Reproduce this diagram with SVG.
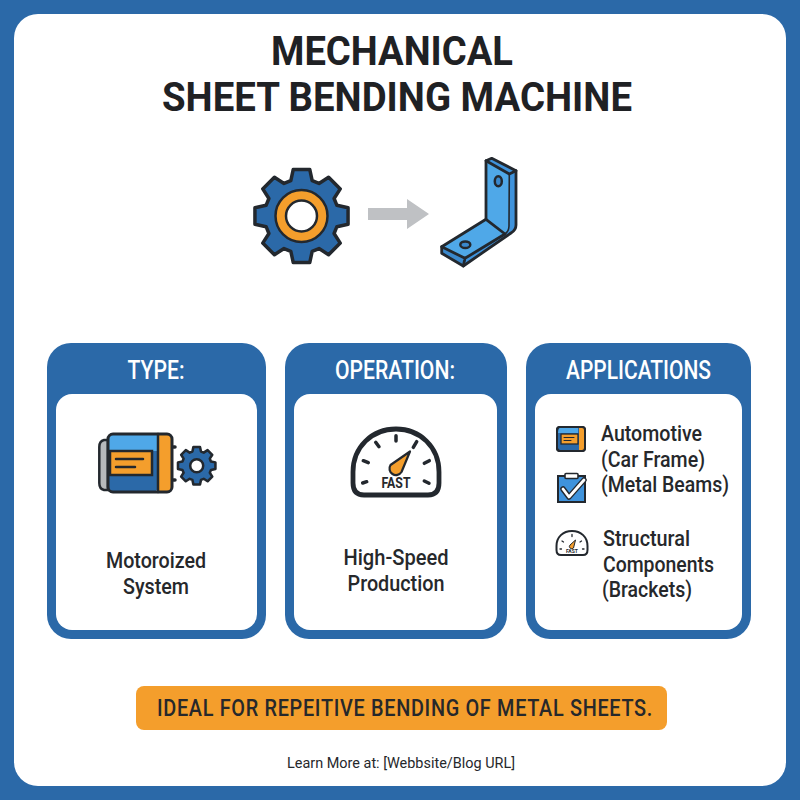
<svg xmlns="http://www.w3.org/2000/svg" width="800" height="800" viewBox="0 0 800 800">
<style>
text{font-family:Roboto,"Liberation Sans",sans-serif;fill:#26282b;font-weight:500;stroke:none}
.title{font-size:41px;font-weight:700;text-anchor:middle;fill:#1f2124}
.head{font-size:25px;fill:#fff;text-anchor:middle}
.body{font-size:22px;text-anchor:middle}
.app{font-size:22px}
.card{fill:#2b69a8}
.inner{fill:#fff}
.ol{stroke:#23282e;stroke-linejoin:round;stroke-linecap:round;fill:none}
</style>
<defs>
<path id="gearShape" d="M-11-36.5L-8.500-48H8.500L11-36.500L18.030-33.590L27.930-39.950L39.950-27.930L33.590-18.030L36.500-11L48-8.500V8.500L36.500 11L33.590 18.030L39.950 27.930L27.930 39.950L18.030 33.590L11 36.500L8.500 48H-8.500L-11 36.500L-18.030 33.590L-27.930 39.950L-39.950 27.930L-33.590 18.030L-36.500 11L-48 8.500V-8.500L-36.500-11L-33.590-18.030L-39.950-27.930L-27.930-39.950L-18.030-33.590Z" stroke-linejoin="round"/>
<g id="gaugeTicks" class="ol">
<path d="M363.300 460.700L368.300 462.700M375.700 442.300L379 446.700M396 435.700V441M416.700 441.700L413.300 447.300M429.300 460.700L424.300 463.300M366.700 481.700L362.700 483M424.300 481L429 483.300" stroke-width="3.500"/>
</g>
</defs>
<rect width="800" height="800" fill="#2b69a8"/>
<rect x="14" y="14" width="772" height="772" rx="24" fill="#fff"/>
<text class="title" x="392" y="65" textLength="242" lengthAdjust="spacingAndGlyphs">MECHANICAL</text>
<text class="title" x="397" y="111" textLength="470" lengthAdjust="spacingAndGlyphs">SHEET BENDING MACHINE</text>

<g id="gear">
<use href="#gearShape" transform="translate(301.500 216) scale(.97)" fill="#2b69a8" stroke="#23282e" stroke-width="3.600"/>
<circle cx="301.500" cy="216" r="21" fill="#fff" stroke="#f49e2c" stroke-width="10"/>
<circle cx="301.500" cy="216" r="26" fill="none" stroke="#23282e" stroke-width="2.500"/>
<circle cx="301.500" cy="216" r="15.500" fill="none" stroke="#23282e" stroke-width="2.500"/>
</g>
<g id="connectors">
<path id="arrow" d="M368 208H407V199L429 214L407 229V220H368Z" fill="#bfc1c4"/>
</g>
<g id="bracket">
<path d="M486 160.700L491.700 158.300L516 170.700V225Q516 230 511 233L463.300 266L441.700 253.300V246.700L486 219.300Z" fill="#4fa8e8"/>
<path d="M486 160.700L491.700 158.300L516 170.700L509.300 174Z" fill="#3f93dc"/>
<path d="M509.300 174L516 170.700V225Q516 230 511 233L463.300 266V258.300L505 234Q509 231 509 226Z" fill="#3f93dc"/>
<path d="M441.700 246.700L465 258.300V266L441.700 253.300Z" fill="#3a88cc"/>
<g class="ol" stroke-width="2.800">
<path d="M486 160.700L491.700 158.300L516 170.700V225Q516 230 511 233L463.300 266L441.700 253.300V246.700L486 219.300Z"/>
<path d="M486 160.700L509.300 174M509.300 174L516 170.700M441.700 246.700L465 258.300L505 234M465 258.300L463.300 266M486 219.300L505 234"/>
<path d="M509.300 174L509 226Q509 231 505 234" stroke-width="1.600"/>
</g>
<ellipse cx="498.300" cy="181.300" rx="3.500" ry="5" fill="#3a88cc" stroke="#23282e" stroke-width="2.500"/>
<ellipse cx="465.300" cy="244.700" rx="5" ry="3.300" fill="#3a88cc" stroke="#23282e" stroke-width="2.500"/>
</g>

<g id="card-type">
<rect class="card" x="47" y="343" width="219" height="296" rx="24"/>
<rect class="inner" x="56" y="394" width="201" height="236" rx="16"/>
<text class="head" x="156" y="379" textLength="57" lengthAdjust="spacingAndGlyphs">TYPE:</text>
<g id="motor">
<path d="M108 440H104Q99.300 441 99.300 447V483Q99.300 489 104 490H108Z" fill="#b6b9bc" stroke="#23282e" stroke-width="2.500"/>
<rect x="108" y="434" width="50" height="58" rx="5" fill="#2b69a8"/>
<path d="M113 434H158V451H108V439Q108 434 113 434Z" fill="#4fa8e8"/>
<rect x="110" y="451" width="42" height="24" fill="#f49e2c" stroke="#23282e" stroke-width="2.500"/>
<path d="M158 434H167Q172 434 172 439V487Q172 492 167 492H158Z" fill="#f49e2c"/>
<g class="ol">
<rect x="108" y="434" width="64" height="58" rx="5" stroke-width="3"/>
<path d="M158 434V492" stroke-width="2.500"/>
<path d="M116 459H143M116 467H135" stroke-width="2.500"/>
<path d="M173.500 447H175M173.500 480H175" stroke-width="3.500"/>
</g>
<use href="#gearShape" transform="translate(196.700 465.700) scale(.39)" fill="#2b69a8" stroke="#23282e" stroke-width="6.500"/>
<circle cx="196.700" cy="465.700" r="6.500" fill="#fff" stroke="#23282e" stroke-width="2.500"/>
</g>
<text class="body" x="156" y="568" textLength="100" lengthAdjust="spacingAndGlyphs">Motoroized</text>
<text class="body" x="156" y="594" textLength="66" lengthAdjust="spacingAndGlyphs">System</text>
</g>

<g id="card-operation">
<rect class="card" x="285" y="343" width="222" height="296" rx="24"/>
<rect class="inner" x="294" y="394" width="203" height="236" rx="16"/>
<text class="head" x="395" y="379" textLength="120" lengthAdjust="spacingAndGlyphs">OPERATION:</text>
<g id="gauge">
<path d="M364 495Q353 495 353 483V472C353 447 372 429 396 429C420 429 439 447 439 472V483Q439 495 428 495Z" fill="#fff" stroke="#23282e" stroke-width="4.800" stroke-linejoin="round"/>
<use href="#gaugeTicks"/>
<path d="M390.500 465L410 451.500L401.500 472A6.500 6.500 0 0 1 390.500 465Z" fill="#f49e2c" stroke="#23282e" stroke-width="2.200" stroke-linejoin="round"/>
<text x="396" y="488" font-size="15" text-anchor="middle" style="font-weight:700" textLength="29" lengthAdjust="spacingAndGlyphs">FAST</text>
</g>
<text class="body" x="396" y="565" textLength="105" lengthAdjust="spacingAndGlyphs">High-Speed</text>
<text class="body" x="396" y="591" textLength="97" lengthAdjust="spacingAndGlyphs">Production</text>
</g>

<g id="card-applications">
<rect class="card" x="526" y="343" width="225" height="296" rx="24"/>
<rect class="inner" x="535" y="394" width="207" height="236" rx="16"/>
<text class="head" x="638.500" y="379" textLength="145" lengthAdjust="spacingAndGlyphs">APPLICATIONS</text>
<g id="mini-motor">
<rect x="557" y="427" width="28" height="24" rx="3" fill="#2b69a8" stroke="#23282e" stroke-width="2"/>
<path d="M559 428H578V433H558Z" fill="#4fa8e8"/>
<rect x="561" y="434" width="17" height="10" fill="#f49e2c" stroke="#23282e" stroke-width="1.300"/>
<rect x="579" y="428" width="6" height="22" fill="#f49e2c"/>
<rect x="557" y="427" width="28" height="24" rx="3" fill="none" stroke="#23282e" stroke-width="2"/>
<path d="M564 437.500H574M564 440.500H571" class="ol" stroke-width="1"/>
</g>
<g id="clipboard">
<rect x="558" y="476" width="27" height="26" fill="#3f93dc" stroke="#23282e" stroke-width="2"/>
<rect x="565" y="473.500" width="13" height="5" rx="1" fill="#fff" stroke="#23282e" stroke-width="1.600"/>
<path d="M563 489L569 497L584 480" fill="none" stroke="#23282e" stroke-width="5.500" stroke-linecap="round" stroke-linejoin="round"/>
<path d="M563 489L569 497L584 480" fill="none" stroke="#fff" stroke-width="2.800" stroke-linecap="round" stroke-linejoin="round"/>
</g>
<g id="mini-gauge">
<path d="M561 555Q556.500 555 556.500 550V546C556.500 537 563 531 572 531C581 531 587.500 537 587.500 546V550Q587.500 555 583 555Z" fill="#fff" stroke="#23282e" stroke-width="2"/>
<path d="M562 541L563.500 542M572 534.500V536.500M581.500 541L580 542M560 549H561.500M582.500 549H584" class="ol" stroke-width="1.300"/>
<path d="M570 545L575.500 540L573.500 548A2 2 0 0 1 570 545Z" fill="#f49e2c" stroke="#23282e" stroke-width="1"/>
<text x="572" y="553" font-size="5" text-anchor="middle" style="font-weight:700">FAST</text>
</g>
<text class="app" x="601" y="441" textLength="101" lengthAdjust="spacingAndGlyphs">Automotive</text>
<text class="app" x="601" y="467" textLength="104" lengthAdjust="spacingAndGlyphs">(Car Frame)</text>
<text class="app" x="601" y="492" textLength="128" lengthAdjust="spacingAndGlyphs">(Metal Beams)</text>
<text class="app" x="603" y="546" textLength="87" lengthAdjust="spacingAndGlyphs">Structural</text>
<text class="app" x="603" y="572" textLength="111" lengthAdjust="spacingAndGlyphs">Components</text>
<text class="app" x="602" y="597" textLength="90" lengthAdjust="spacingAndGlyphs">(Brackets)</text>
</g>

<g id="banner">
<rect x="136" y="686" width="531" height="44" rx="8" fill="#f49e2c"/>
<text x="405" y="716" text-anchor="middle" textLength="496" lengthAdjust="spacingAndGlyphs" style="font-size:23px;letter-spacing:.8px">IDEAL FOR REPEITIVE BENDING OF METAL SHEETS.</text>
</g>
<text id="footer" x="401" y="768" font-size="15" text-anchor="middle" style="font-weight:400" textLength="228" lengthAdjust="spacingAndGlyphs">Learn More at: [Webbsite/Blog URL]</text>
</svg>
